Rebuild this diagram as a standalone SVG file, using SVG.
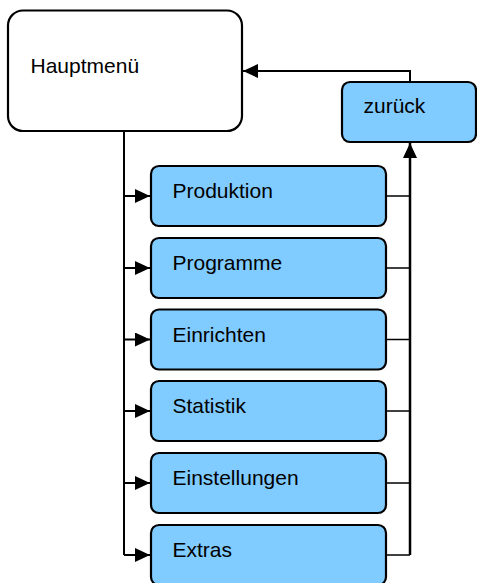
<svg xmlns="http://www.w3.org/2000/svg" width="477" height="583" viewBox="0 0 477 583">
<style>
.box{fill:#80CBFF;stroke:#000;stroke-width:2.2}
.main{fill:#fff;stroke:#000;stroke-width:2.2}
.lbl{font-family:"Liberation Sans",Arial,sans-serif;font-size:21px;fill:#000}
.con{fill:none;stroke:#000;stroke-width:2}
.thin{fill:none;stroke:#000;stroke-width:1.5}
.thick{fill:none;stroke:#000;stroke-width:2.5}
</style>
<defs>
<marker id="ah" markerUnits="userSpaceOnUse" markerWidth="16" markerHeight="14" refX="15" refY="7" orient="auto">
<path d="M0,0 L15,7 L0,14 Z" fill="#000"/>
</marker>
</defs>
<g id="hauptmenu">
<rect class="main" x="8" y="10.5" width="234" height="120.5" rx="15"/>
<text class="lbl" x="30.5" y="73">Hauptmenü</text>
</g>
<g id="zurueck">
<rect class="box" x="342" y="82" width="134" height="60" rx="8"/>
<text class="lbl" x="363.5" y="113">zurück</text>
</g>
<g id="produktion">
<rect class="box" x="151" y="166" width="235" height="60" rx="8"/>
<text class="lbl" x="172.5" y="198">Produktion</text>
</g>
<g id="programme">
<rect class="box" x="151" y="238" width="235" height="60" rx="8"/>
<text class="lbl" x="172.5" y="270">Programme</text>
</g>
<g id="einrichten">
<rect class="box" x="151" y="309.5" width="235" height="60" rx="8"/>
<text class="lbl" x="172.5" y="341.5">Einrichten</text>
</g>
<g id="statistik">
<rect class="box" x="151" y="381" width="235" height="60" rx="8"/>
<text class="lbl" x="172.5" y="413">Statistik</text>
</g>
<g id="einstellungen">
<rect class="box" x="151" y="453" width="235" height="60" rx="8"/>
<text class="lbl" x="172.5" y="485">Einstellungen</text>
</g>
<g id="extras">
<rect class="box" x="151" y="525" width="235" height="60" rx="8"/>
<text class="lbl" x="172.5" y="557">Extras</text>
</g>
<g id="connectors">
<path class="con" d="M124,131 V555"/>
<path class="con" d="M124,196 H150" marker-end="url(#ah)"/>
<path class="con" d="M124,268 H150" marker-end="url(#ah)"/>
<path class="con" d="M124,339.5 H150" marker-end="url(#ah)"/>
<path class="con" d="M124,411 H150" marker-end="url(#ah)"/>
<path class="con" d="M124,483 H150" marker-end="url(#ah)"/>
<path class="con" d="M124,555 H150" marker-end="url(#ah)"/>
<path class="thin" d="M386,196 H410"/>
<path class="thin" d="M386,268 H410"/>
<path class="thin" d="M386,339.5 H410"/>
<path class="thin" d="M386,411 H410"/>
<path class="thin" d="M386,483 H410"/>
<path class="thin" d="M386,555 H410"/>
<path class="thick" d="M410,555 V143" marker-end="url(#ah)"/>
<path class="con" d="M410,82 V71 H243" marker-end="url(#ah)"/>
</g>
</svg>
